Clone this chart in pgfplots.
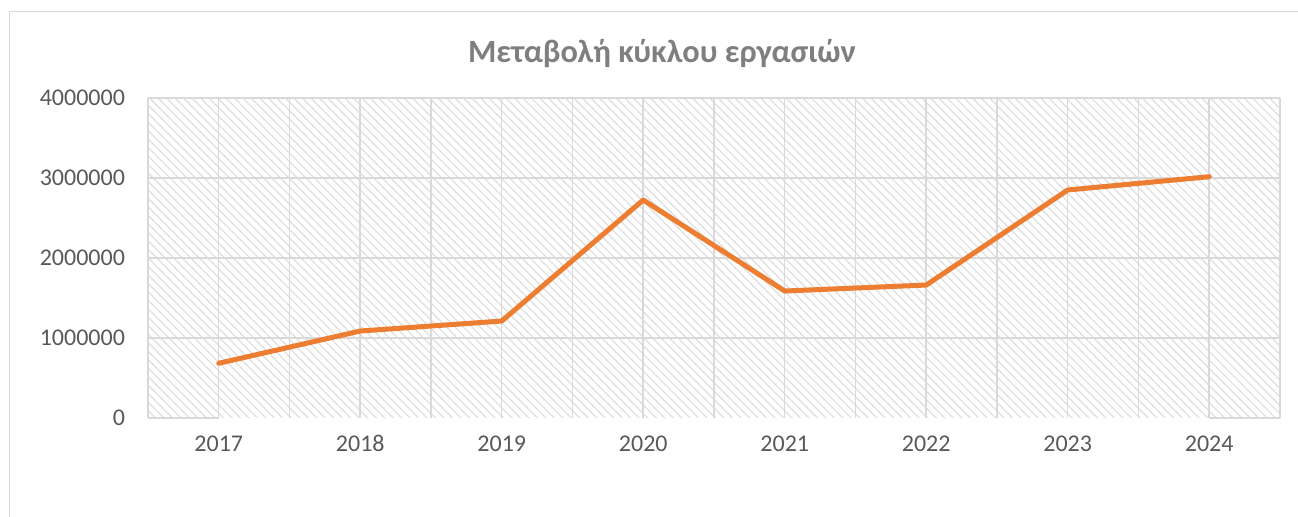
\documentclass[border=0pt]{standalone}
\usepackage{fontspec}
\setmainfont{Carlito}
\usepackage{pgfplots}
\pgfplotsset{compat=1.18}
\usetikzlibrary{patterns.meta}
\definecolor{lineorange}{HTML}{ED7D31}
\definecolor{gridgray}{HTML}{D9D9D9}
\definecolor{hatchgray}{HTML}{DEDEDE}
\definecolor{ticktext}{HTML}{595959}
\definecolor{titletext}{HTML}{7F7F7F}
\begin{document}
\begin{tikzpicture}[x=1pt,y=1pt]
\useasboundingbox (0,0) rectangle (649,258.5);
\draw[gridgray, line width=0.75pt] (4.75,0) -- (4.75,252.75) -- (649,252.75);
\node[font=\bfseries\fontsize{16.2}{19}\selectfont, text=titletext] at (331,231.5) {Μεταβολή κύκλου εργασιών};
\begin{axis}[
  at={(74pt,49.5pt)}, anchor=south west, scale only axis,
  width=566pt, height=160pt,
  xmin=-0.5, xmax=7.5, ymin=0, ymax=4000000,
  axis line style={draw=none},
  axis background/.style={pattern={Lines[angle=-45,distance=3pt,line width=0.6pt]}, pattern color=hatchgray},
  xtick={0,1,2,3,4,5,6,7},
  xticklabels={2017,2018,2019,2020,2021,2022,2023,2024},
  minor xtick={-0.5,0.5,1.5,2.5,3.5,4.5,5.5,6.5,7.5},
  ytick={1000000,2000000,3000000,4000000},
  yticklabels={1000000,2000000,3000000,4000000},
  extra y ticks={0}, extra y tick labels={0},
  extra y tick style={grid=none},
  scaled y ticks=false,
  xmajorgrids, xminorgrids, ymajorgrids,
  major grid style={gridgray, line width=0.75pt},
  minor grid style={gridgray, line width=0.75pt},
  major tick length=0pt, minor tick length=0pt,
  tick label style={font=\fontsize{12}{14}\selectfont, text=ticktext},
  yticklabel style={anchor=east, xshift=-8pt},
  xticklabel style={anchor=base, yshift=-17pt},
  clip=false,
]
\draw[gridgray, line width=0.9pt] (axis cs:-0.5,0) -- (axis cs:0,0);
\draw[gridgray, line width=0.9pt] (axis cs:7,0) -- (axis cs:7.5,0);
\addplot[lineorange, line width=2.5pt, line join=round, line cap=round] coordinates {
(0,684000) (1,1087000) (2,1212000) (3,2725000) (4,1587000) (5,1662000) (6,2850000) (7,3016000)
};
\end{axis}
\end{tikzpicture}
\end{document}
